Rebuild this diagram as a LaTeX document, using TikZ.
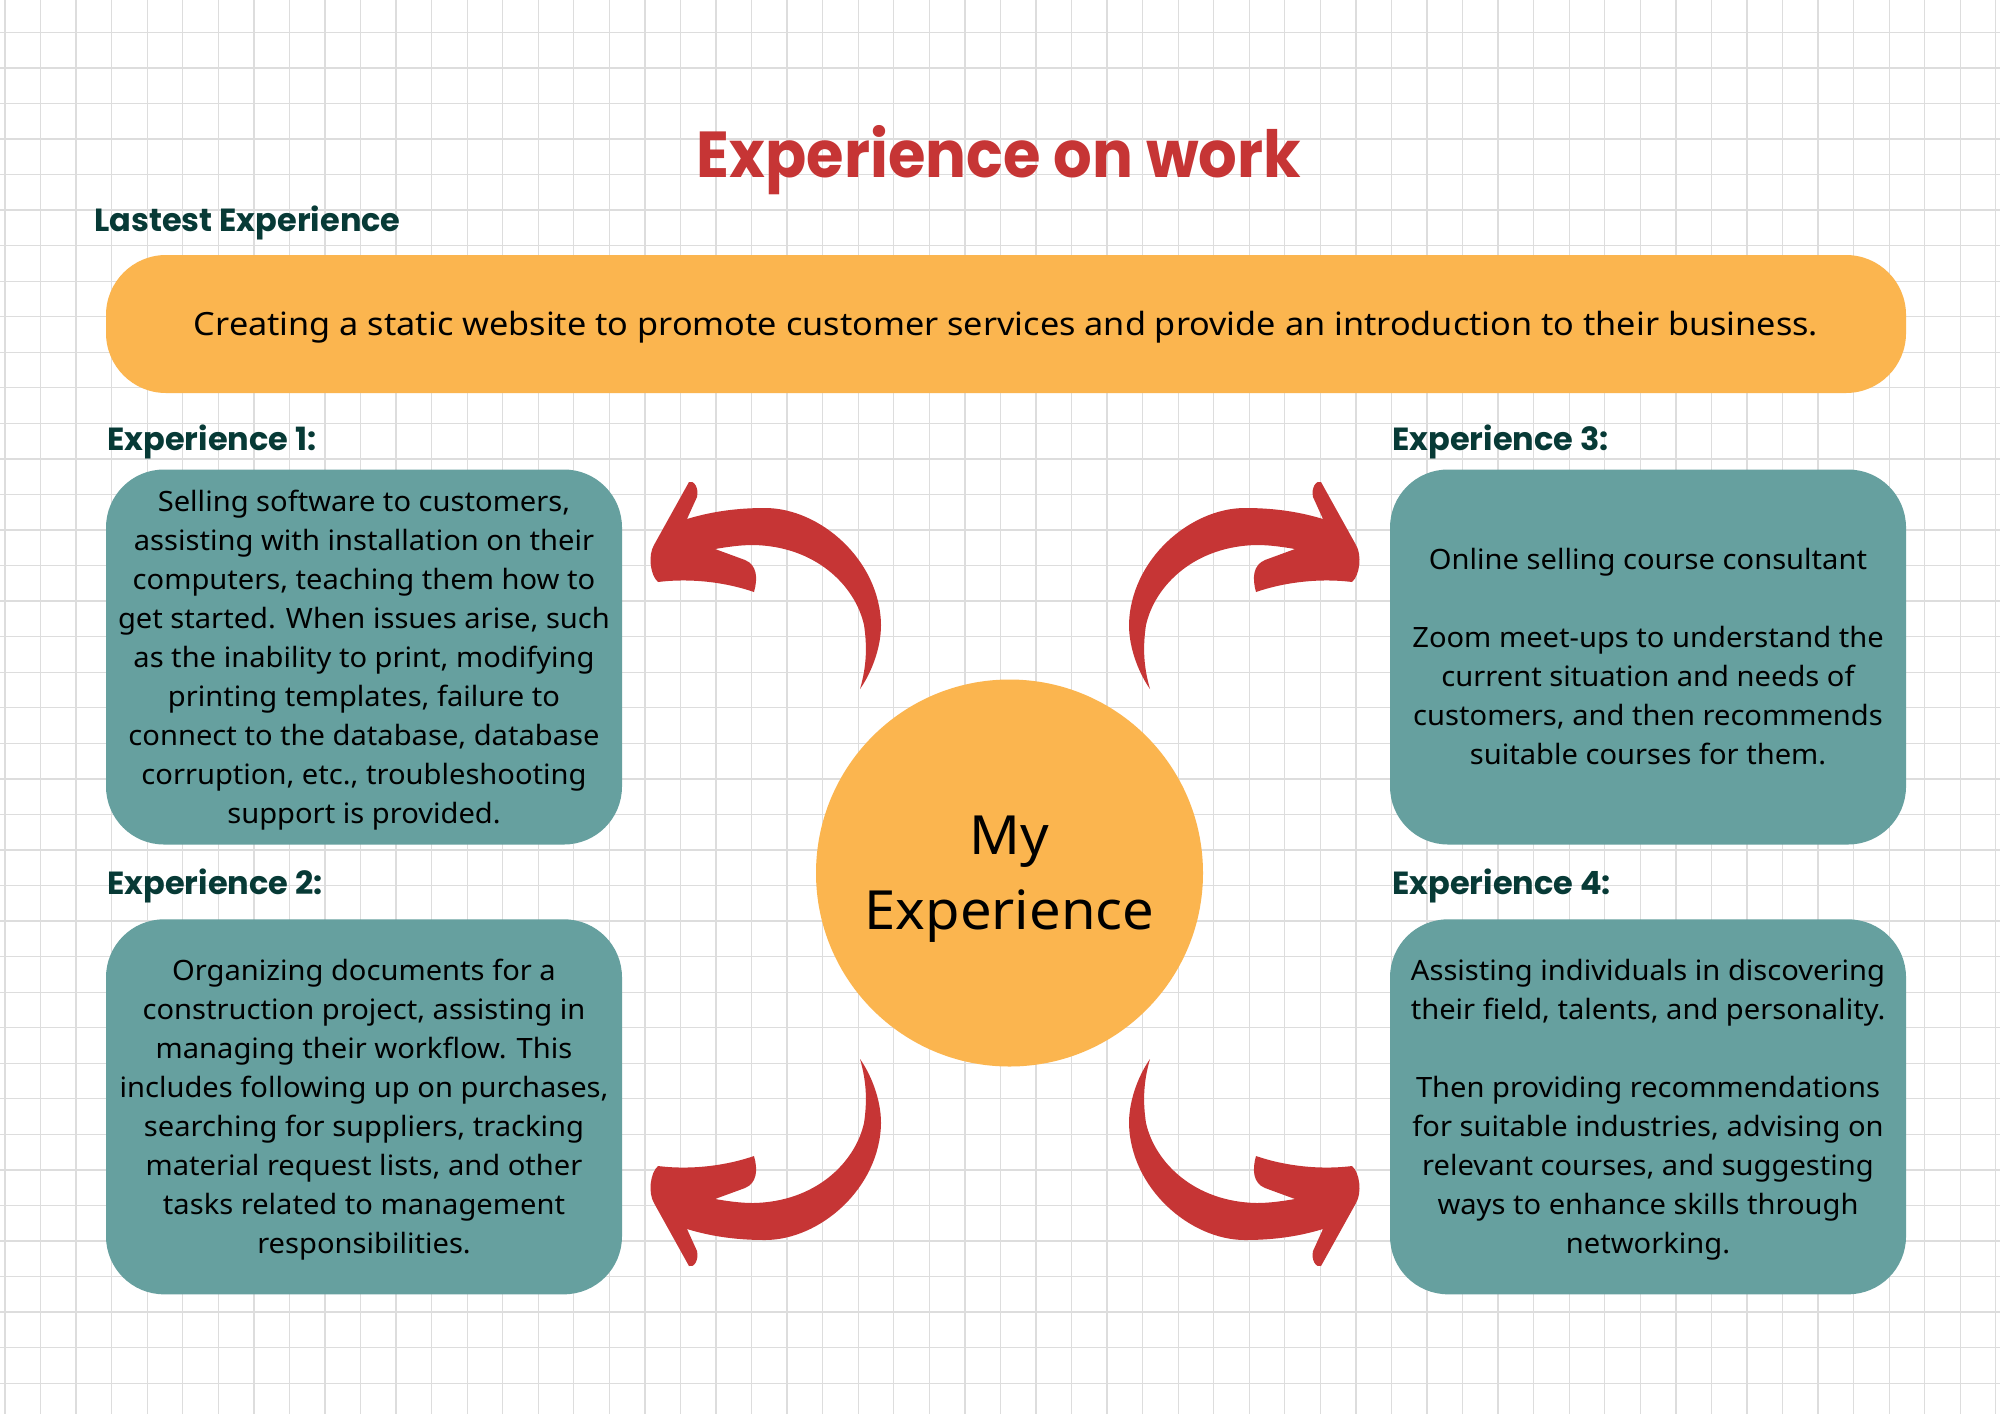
\documentclass[tikz,border=0pt]{standalone}
\usepackage{fontspec}
\setmainfont{Noto Sans}[FakeStretch=1.04]
\newfontfamily\bannerfont{Noto Sans}[FakeStretch=1.07]
\newfontfamily\headfont{Poppins}
\newfontfamily\titlefont{Poppins}[FakeStretch=0.935]
\definecolor{gridc}{HTML}{DDDDDD}
\definecolor{orangec}{HTML}{FBB54F}
\definecolor{tealc}{HTML}{66A09F}
\definecolor{redc}{HTML}{C63535}
\definecolor{darkc}{HTML}{073A36}
\newcommand\bodystrut{\rule[-3.6pt]{0pt}{17.2pt}}
\newcommand\circstrut{\rule[-7pt]{0pt}{33pt}}
\newcommand\arrowpath{(687,519) .. controls (710,512) and (735,508) .. (765,508) .. controls (820,508) and (880,560) .. (881,625) .. controls (881,650) and (870,675) .. (860,689) .. controls (867,665) and (867,645) .. (864,625) .. controls (855,585) and (815,546) .. (753,545) .. controls (740,545) and (727,547) .. (715,549) -- (745,560) .. controls (757,565) and (758,578) .. (754,592) .. controls (725,582) and (690,578) .. (658,582) .. controls (650,575) and (648,555) .. (654,545) -- (689,482) .. controls (694,480) and (699,488) .. (697,497) -- cycle}
\begin{document}
\begin{tikzpicture}[x=0.5pt,y=-0.5pt,
  gridline/.style={draw=gridc,line width=0.65pt},
  expbox/.style={fill=tealc,rounded corners=29pt,minimum width=258pt,minimum height=187.5pt,inner sep=0pt,align=center,font=\fontsize{14}{19.5}\selectfont,text=black},
  explabel/.style={anchor=base west,inner sep=0pt,text=darkc,font=\headfont\bfseries\fontsize{16}{19}\selectfont},
  arrowshape/.style={fill=redc,draw=none}]
\useasboundingbox (0,0) rectangle (2000,1414);
\fill[white] (0,0) rectangle (2000,1414);
\foreach \i in {0,...,56} \draw[gridline] ({5+35.55*\i},0) -- ({5+35.55*\i},1414);
\foreach \j in {1,...,39} \draw[gridline] (0,{-3.25+35.55*\j}) -- (2000,{-3.25+35.55*\j});
% arrows
\fill[arrowshape] \arrowpath;
\begin{scope}[shift={(1005,0)},xscale=-1,shift={(-1005,0)}]
\fill[arrowshape] \arrowpath;
\end{scope}
\begin{scope}[shift={(0,874)},yscale=-1,shift={(0,-874)}]
\fill[arrowshape] \arrowpath;
\end{scope}
\begin{scope}[shift={(1005,874)},scale=-1,shift={(-1005,-874)}]
\fill[arrowshape] \arrowpath;
\end{scope}
% title
\node[anchor=base,inner sep=0pt,text=redc,font=\titlefont\bfseries\fontsize{32.5}{36}\selectfont] (title) at (999,177.5) {Experience on work};
\node[explabel] (lastlbl) at (94,231.7) {Lastest Experience};
\node[fill=orangec,rounded corners=30pt,minimum width=900pt,minimum height=69pt,inner sep=0pt,text height=14.6pt,text depth=3.4pt,font=\bannerfont\fontsize{16}{19}\selectfont] (latest) at (1006,324) {Creating a static website to promote customer services and provide an introduction to their business.};
% labels
\node[explabel] (l1) at (106.9,450.7) {Experience 1:};
\node[explabel] (l3) at (1392,450.7) {Experience 3:};
\node[explabel] (l2) at (106.9,894) {Experience 2:};
\node[explabel] (l4) at (1392,894) {Experience 4:};
% boxes
\node[expbox] (e1) at (364,657) {\bodystrut Selling software to customers,\\
assisting with installation on their\\
computers, teaching them how to\\
get started. When issues arise, such\\
as the inability to print, modifying\\
printing templates, failure to\\
connect to the database, database\\
corruption, etc., troubleshooting\\
support is provided.\bodystrut};
\node[expbox] (e3) at (1648,657) {\bodystrut Online selling course consultant\\[19.5pt]
Zoom meet-ups to understand the\\
current situation and needs of\\
customers, and then recommends\\
suitable courses for them.\bodystrut};
\node[expbox] (e2) at (364,1106.8) {\bodystrut Organizing documents for a\\
construction project, assisting in\\
managing their workflow. This\\
includes following up on purchases,\\
searching for suppliers, tracking\\
material request lists, and other\\
tasks related to management\\
responsibilities.\bodystrut};
\node[expbox] (e4) at (1648,1106.8) {\bodystrut Assisting individuals in discovering\\
their field, talents, and personality.\\[19.5pt]
Then providing recommendations\\
for suitable industries, advising on\\
relevant courses, and suggesting\\
ways to enhance skills through\\
networking.\bodystrut};
% centre
\node[circle,fill=orangec,minimum size=193.5pt,inner sep=0pt,align=center,font=\fontsize{27}{37.5}\selectfont] (me) at (1009.5,873) {\circstrut My\\ Experience\circstrut};
\end{tikzpicture}
\end{document}
